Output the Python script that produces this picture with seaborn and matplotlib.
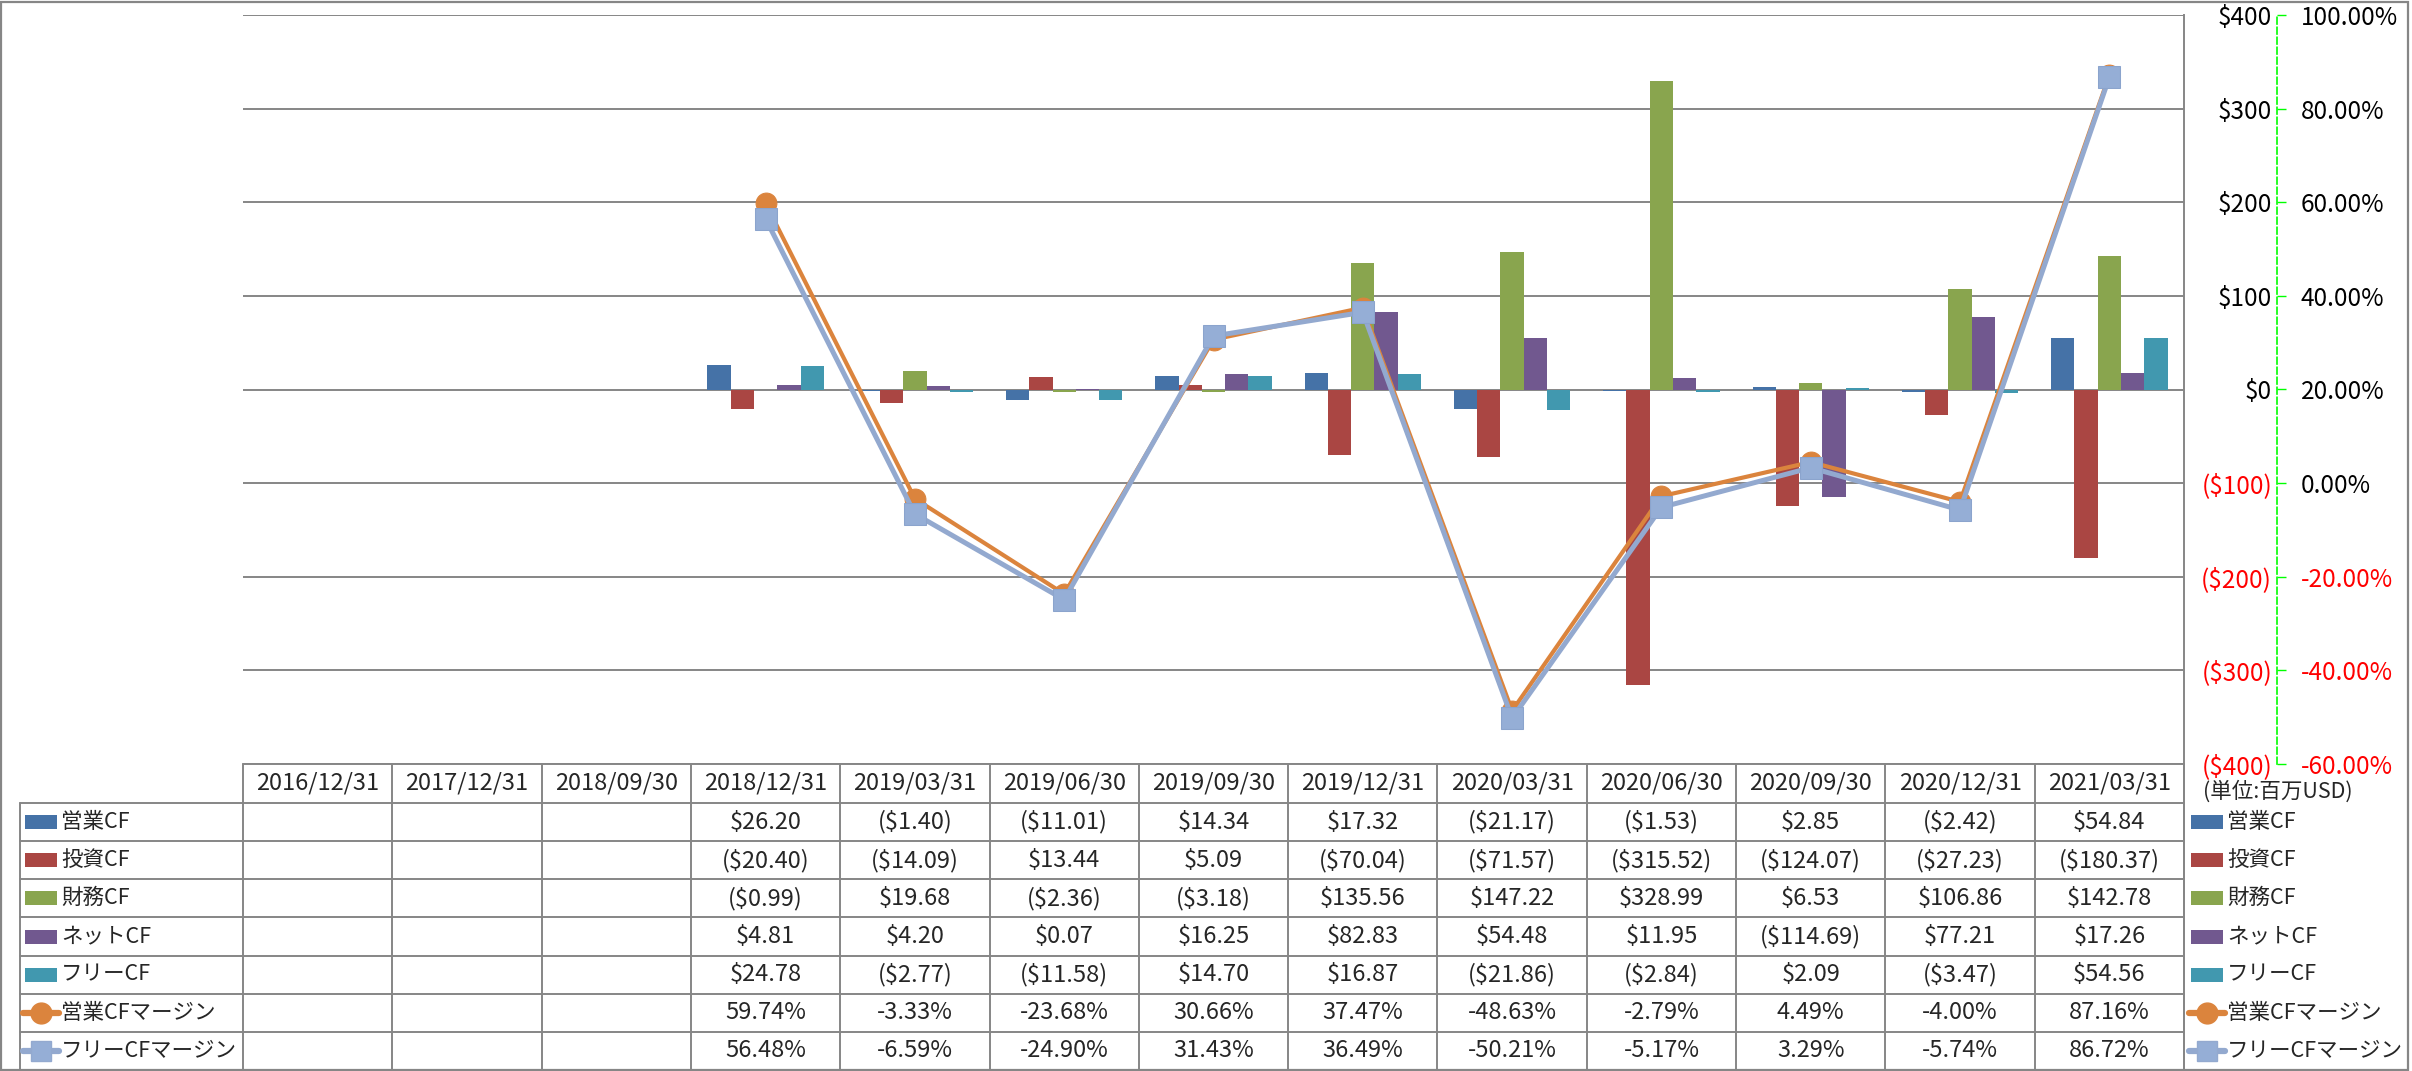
import numpy as np
import pandas as pd
import matplotlib
matplotlib.use('Agg')
import matplotlib.pyplot as plt
import seaborn as sns
from matplotlib.lines import Line2D
from matplotlib.patches import Rectangle

nan = np.nan
dates = ['2016/12/31', '2017/12/31', '2018/09/30', '2018/12/31', '2019/03/31',
         '2019/06/30', '2019/09/30', '2019/12/31', '2020/03/31', '2020/06/30',
         '2020/09/30', '2020/12/31', '2021/03/31']
op_cf = [nan, nan, nan, 26.20, -1.40, -11.01, 14.34, 17.32, -21.17, -1.53, 2.85, -2.42, 54.84]
inv_cf = [nan, nan, nan, -20.40, -14.09, 13.44, 5.09, -70.04, -71.57, -315.52, -124.07, -27.23, -180.37]
fin_cf = [nan, nan, nan, -0.99, 19.68, -2.36, -3.18, 135.56, 147.22, 328.99, 6.53, 106.86, 142.78]
net_cf = [nan, nan, nan, 4.81, 4.20, 0.07, 16.25, 82.83, 54.48, 11.95, -114.69, 77.21, 17.26]
free_cf = [nan, nan, nan, 24.78, -2.77, -11.58, 14.70, 16.87, -21.86, -2.84, 2.09, -3.47, 54.56]
op_margin = [nan, nan, nan, 59.74, -3.33, -23.68, 30.66, 37.47, -48.63, -2.79, 4.49, -4.00, 87.16]
free_margin = [nan, nan, nan, 56.48, -6.59, -24.90, 31.43, 36.49, -50.21, -5.17, 3.29, -5.74, 86.72]

bar_names = ['営業CF', '投資CF', '財務CF', 'ネットCF', 'フリーCF']
bar_colors = ['#4572A7', '#AA4643', '#89A54E', '#71588F', '#4198AF']
line_names = ['営業CFマージン', 'フリーCFマージン']
line_colors = ['#DB843D', '#93A9CF']
usd_ticks = [-400, -300, -200, -100, 0, 100, 200, 300, 400]
pct_ticks = [-60, -40, -20, 0, 20, 40, 60, 80, 100]
unit_text = '(単位:百万USD)'

sns.set_style('white')
plt.rcParams['font.family'] = ['Noto Sans CJK JP', 'DejaVu Sans']

W, H = 2412, 1071
fig = plt.figure(figsize=(W / 100, H / 100), dpi=100)


def fx(px):
    return px / W


def fy(py):
    return 1 - py / H


# plot area (pixel coords of the reference)
p_left, p_right, p_top, p_bottom = 243, 2184, 15, 764
ax = fig.add_axes([fx(p_left), fy(p_bottom), fx(p_right - p_left), (p_bottom - p_top) / H])

bar_series = [op_cf, inv_cf, fin_cf, net_cf, free_cf]
bar_df = pd.DataFrame({
    'date': dates * len(bar_names),
    'series': np.repeat(bar_names, len(dates)),
    'value': np.concatenate(bar_series),
}).dropna()

sns.barplot(data=bar_df, x='date', y='value', hue='series', order=dates,
            hue_order=bar_names, palette=bar_colors, saturation=1, width=0.78,
            errorbar=None, linewidth=0, legend=False, ax=ax)
ax.set_xlim(-0.5, len(dates) - 0.5)
ax.set_ylim(-400, 400)
ax.set_axisbelow(True)
ax.grid(axis='y', color='#868686', linewidth=1.4)
ax.grid(axis='x', visible=False)
ax.set_xticks([])
ax.set_xlabel('')
ax.set_ylabel('')

# margin axis
ax2 = ax.twinx()
pos = np.arange(len(dates))
sns.lineplot(x=pos, y=op_margin, ax=ax2, color=line_colors[0], linewidth=3,
             marker='o', markersize=15, markeredgecolor=line_colors[0], legend=False)
sns.lineplot(x=pos, y=free_margin, ax=ax2, color=line_colors[1], linewidth=3.6,
             marker='s', markersize=16, markerfacecolor='#95AED6',
             markeredgecolor='#8BA4CD', legend=False)
ax2.set_ylim(-60, 100)
ax2.set_xlim(-0.5, len(dates) - 0.5)
ax2.set_yticks(pct_ticks)
ax2.set_yticklabels([f'{v:.2f}%' for v in pct_ticks])
ax2.set_ylabel('')
for s in ['left', 'top', 'bottom']:
    ax2.spines[s].set_visible(False)
ax2.spines['right'].set_position(('axes', (2277 - p_left) / (p_right - p_left)))
ax2.spines['right'].set_color('#00FF00')
ax2.spines['right'].set_linestyle((0, (4, 2)))
ax2.spines['right'].set_linewidth(1.2)
ax2.tick_params(axis='y', length=6.5, width=1, color='#00FF00', pad=10.5, labelsize=17.5)
for lab, v in zip(ax2.get_yticklabels(), pct_ticks):
    lab.set_color('#FF0000' if v < 0 else 'black')

# dollar labels sit left of the green spine (twinx resets them to the left)
for s in ['left', 'top', 'bottom']:
    ax.spines[s].set_visible(False)
ax.spines['right'].set_visible(True)
ax.spines['right'].set_color('#868686')
ax.spines['right'].set_linewidth(1.4)
ax.yaxis.tick_right()
ax.set_yticks(usd_ticks)
ax.set_yticklabels([f'${v}' if v >= 0 else f'(${-v})' for v in usd_ticks])
ax.tick_params(axis='y', which='both', left=False, right=True, labelleft=False,
               labelright=True, length=0, pad=(2272 - p_right) * 0.72, labelsize=17.5)
for lab, v in zip(ax.get_yticklabels(), usd_ticks):
    lab.set_horizontalalignment('right')
    lab.set_color('#FF0000' if v < 0 else 'black')

# data table under the plot
grid_c = '#868686'
col_w = (p_right - p_left) / len(dates)
head_top, head_bot, tab_bot = 764, 803, 1070
row_h = (tab_bot - head_bot) / 7


def hline(y, x0, x1):
    fig.add_artist(Line2D([fx(x0), fx(x1)], [fy(y), fy(y)], color=grid_c, lw=1.4))


def vline(x, y0, y1):
    fig.add_artist(Line2D([fx(x), fx(x)], [fy(y0), fy(y1)], color=grid_c, lw=1.4))


hline(head_top, p_left, p_right)
for i in range(8):
    hline(head_bot + i * row_h, 20, p_right)
for j in range(len(dates) + 1):
    vline(p_left + j * col_w, head_top, tab_bot)
vline(20, head_bot, tab_bot)
vline(p_right, head_top, tab_bot)

for j, d in enumerate(dates):
    fig.text(fx(p_left + (j + 0.5) * col_w), fy((head_top + head_bot) / 2), d,
             ha='center', va='center', fontsize=17)


def money(v):
    return f'${v:.2f}' if v >= 0 else f'(${-v:.2f})'


rows = [(n, s, money) for n, s in zip(bar_names, bar_series)]
rows += [(line_names[0], op_margin, lambda v: f'{v:.2f}%'),
         (line_names[1], free_margin, lambda v: f'{v:.2f}%')]
for i, (name, vals, fmt) in enumerate(rows):
    yc = head_bot + (i + 0.5) * row_h
    for j, v in enumerate(vals):
        if not np.isnan(v):
            fig.text(fx(p_left + (j + 0.5) * col_w), fy(yc), fmt(v),
                     ha='center', va='center', fontsize=17)
    # legend keys on both sides
    for kx in (25, 2191):
        if i < 5:
            fig.add_artist(Rectangle((fx(kx), fy(yc + 7)), fx(32), 14 / H,
                                     color=bar_colors[i], lw=0))
        else:
            k = i - 5
            fig.add_artist(Line2D([fx(kx - 2), fx(kx + 34)], [fy(yc), fy(yc)],
                                  color=line_colors[k], lw=4.5))
            fig.add_artist(Line2D([fx(kx + 16)], [fy(yc)], color=line_colors[k],
                                  marker='o' if k == 0 else 's', markersize=15,
                                  markerfacecolor='#95AED6' if k else line_colors[0],
                                  markeredgecolor=line_colors[k]))
        fig.text(fx(kx + 36), fy(yc), name, ha='left', va='center', fontsize=15.5)

fig.text(fx(2203), fy(792), unit_text, ha='left', va='center', fontsize=15.5)

# outer chart border
fig.add_artist(Rectangle((0.0005, 0.0005), 0.998, 0.998, fill=False,
                         edgecolor=grid_c, lw=1.6))

fig.savefig('out.png', dpi=100)
